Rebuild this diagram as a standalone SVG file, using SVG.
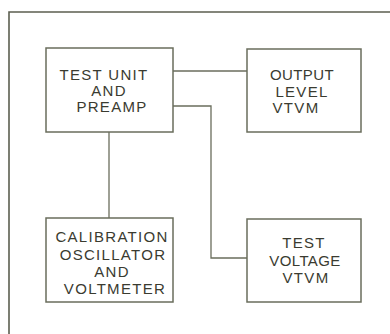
<svg xmlns="http://www.w3.org/2000/svg" width="390" height="334" viewBox="0 0 390 334">
<style>
.box{fill:none;stroke:#6a6d5c;stroke-width:1.5}
.frame{fill:none;stroke:#5c5f50;stroke-width:1.6}
.wire{fill:none;stroke:#6a6d5c;stroke-width:1.3}
text{font-family:"Liberation Sans",Arial,sans-serif;font-size:15px;fill:#3a3b30;text-anchor:middle;letter-spacing:1.3px}
.tight{letter-spacing:0.4px}
</style>
<rect width="390" height="334" fill="#ffffff"/>
<path class="frame" d="M9,334 V12 H390"/>
<g id="connectors">
<path class="wire" d="M173,71 H247"/>
<path class="wire" d="M173,106 H211 V258 H247"/>
<path class="wire" d="M109,132 V218"/>
</g>
<g id="test-unit">
<rect class="box" x="46" y="48" width="127" height="84"/>
<text x="104" y="80">TEST UNIT</text>
<text x="109" y="96">AND</text>
<text x="112" y="112">PREAMP</text>
</g>
<g id="output-level">
<rect class="box" x="247" y="49" width="114" height="83"/>
<text class="tight" x="302" y="80">OUTPUT</text>
<text x="302" y="96.5">LEVEL</text>
<text x="296" y="113">VTVM</text>
</g>
<g id="calibration">
<rect class="box" x="46" y="218" width="127" height="84"/>
<text x="112" y="242">CALIBRATION</text>
<text x="113" y="260">OSCILLATOR</text>
<text x="112" y="277">AND</text>
<text x="115" y="294">VOLTMETER</text>
</g>
<g id="test-voltage">
<rect class="box" x="247" y="219" width="114" height="83"/>
<text x="304" y="248">TEST</text>
<text class="tight" x="305" y="266">VOLTAGE</text>
<text x="306" y="283">VTVM</text>
</g>
</svg>
